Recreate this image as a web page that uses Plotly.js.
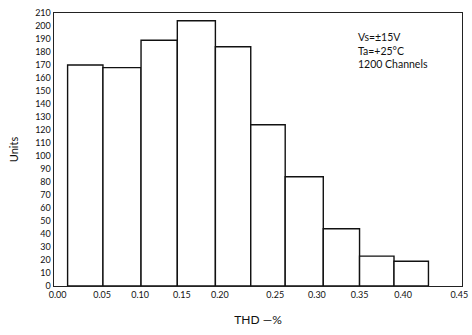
<!DOCTYPE html>
<html>
<head>
<meta charset="utf-8">
<script src="https://cdn.plot.ly/plotly-3.0.1.min.js"></script>
<style>html,body{margin:0;padding:0;background:#fff;}#chart{width:472px;height:335px;}</style>
</head>
<body>
<div id="chart"></div>
<script>
// Bin edges (THD %) as drawn, and counts per bin
const binEdges = [0.015, 0.054, 0.096, 0.136, 0.178, 0.217, 0.255, 0.297, 0.337, 0.375, 0.413];
const counts = [170, 168, 189, 204, 184, 124, 84, 44, 23, 19];
// X tick labels and where they sit on the axis
const xTickText = ["0.00", "0.05", "0.10", "0.15", "0.20", "0.25", "0.30", "0.35", "0.40", "0.45"];
const xTickPos = [0.004, 0.053, 0.095, 0.141, 0.183, 0.244, 0.290, 0.337, 0.385, 0.447];
const yTicks = [0,10,20,30,40,50,60,70,80,90,100,110,120,130,140,150,160,170,180,190,200,210];
const noteLines = ["Vs=±15V", "Ta=+25°C", "1200 Channels"];

const centers = counts.map((_, i) => (binEdges[i] + binEdges[i + 1]) / 2);
const widths = counts.map((_, i) => binEdges[i + 1] - binEdges[i]);

const trace = {
  type: 'bar',
  x: centers,
  y: counts,
  width: widths,
  marker: {color: '#ffffff', line: {color: '#111111', width: 1.4}},
  hoverinfo: 'skip'
};

const font = 'Lato, "Open Sans", "DejaVu Sans", sans-serif';

const layout = {
  width: 472, height: 335,
  margin: {l: 54, r: 10, t: 13, b: 49},
  paper_bgcolor: '#ffffff', plot_bgcolor: '#ffffff',
  showlegend: false,
  font: {family: font, size: 9, color: '#111'},
  xaxis: {
    range: [0, 0.45],
    tickmode: 'array', tickvals: xTickPos, ticktext: xTickText,
    ticks: '', showgrid: false, zeroline: false,
    showline: true, linecolor: '#222', linewidth: 1.4, mirror: true,
    tickfont: {family: font, size: 9, color: '#111'},
    title: {text: 'THD —%', font: {family: font, size: 12, color: '#111'}, standoff: 16}
  },
  yaxis: {
    range: [0, 210],
    tickmode: 'array', tickvals: yTicks, ticktext: yTicks.map(String),
    ticks: '', showgrid: false, zeroline: false,
    showline: true, linecolor: '#222', linewidth: 1.4, mirror: true,
    tickfont: {family: font, size: 9, color: '#111'},
    title: {text: 'Units', font: {family: font, size: 11, color: '#111'}, standoff: 14}
  },
  annotations: [{
    xref: 'paper', yref: 'paper',
    x: 0.74, y: 0.94, xanchor: 'left', yanchor: 'top',
    align: 'left', showarrow: false,
    text: noteLines.join('<br>'),
    font: {family: font, size: 10.5, color: '#111'}
  }]
};

Plotly.newPlot('chart', [trace], layout, {displayModeBar: false, staticPlot: true});
</script>
</body>
</html>
